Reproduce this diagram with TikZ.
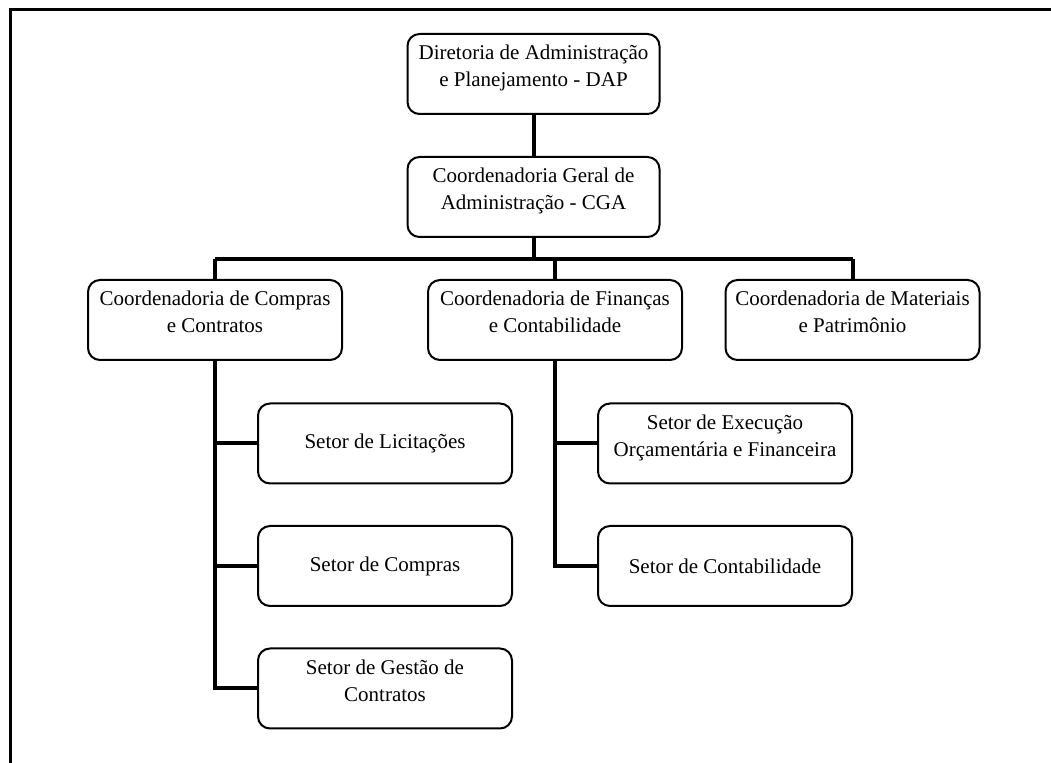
\documentclass[tikz,border=0pt]{standalone}
\usepackage{fontspec}
\setmainfont{Liberation Serif}
\newcommand{\liftx}{\rule[-8pt]{0pt}{0pt}}
\tikzset{
  unit/.style={draw, line width=1pt, rounded corners=6pt, minimum width=127pt,
    minimum height=40pt, align=center, inner sep=2pt,
    font=\fontsize{10.5}{13.5}\selectfont},
  link/.style={line width=2pt},
  frame/.style={line width=1.5pt, line join=miter}
}
\begin{document}
\begin{tikzpicture}[x=0.5pt,y=-0.5pt]
\useasboundingbox (0,0) rectangle (1051,763);
\draw[frame] (10,763) -- (10,10) -- (1051,10);

\node[unit, minimum width=126pt] (dap) at (533.5,74) {Diretoria de Administração\\e Planejamento - DAP\liftx};
\node[unit, minimum width=126pt] (cga) at (533.5,197) {Coordenadoria Geral de\\Administração - CGA\liftx};
\node[unit] (cc) at (215,320) {Coordenadoria de Compras\\e Contratos\liftx};
\node[unit] (cf) at (555,320) {Coordenadoria de Finanças\\e Contabilidade\liftx};
\node[unit] (cm) at (852.5,320) {Coordenadoria de Materiais\\e Patrimônio\liftx};
\node[unit] (sl) at (385,443.5) {Setor de Licitações};
\node[unit] (sc) at (385,566) {Setor de Compras};
\node[unit] (sg) at (385,688.5) {Setor de Gestão de\\Contratos\liftx};
\node[unit] (se) at (725,443.5) {Setor de Execução\\Orçamentária e Financeira\liftx};
\node[unit] (sct) at (725,566) {Setor de Contabilidade};

\coordinate (bar) at (535,259);
\draw[link] (dap) -- (cga);
\draw[link] (cga.south) -- (cga.south |- bar);
\draw[link] (cc.north |- bar) -- (cm.north |- bar);
\draw[link] (cc.north |- bar) -- (cc.north);
\draw[link] (cf.north |- bar) -- (cf.north);
\draw[link] (cm.north |- bar) -- (cm.north);
\draw[link] (cc.south) |- (sg.west);
\draw[link] (cc.south |- sl.west) -- (sl.west);
\draw[link] (cc.south |- sc.west) -- (sc.west);
\draw[link] (cf.south) |- (sct.west);
\draw[link] (cf.south |- se.west) -- (se.west);
\end{tikzpicture}
\end{document}
